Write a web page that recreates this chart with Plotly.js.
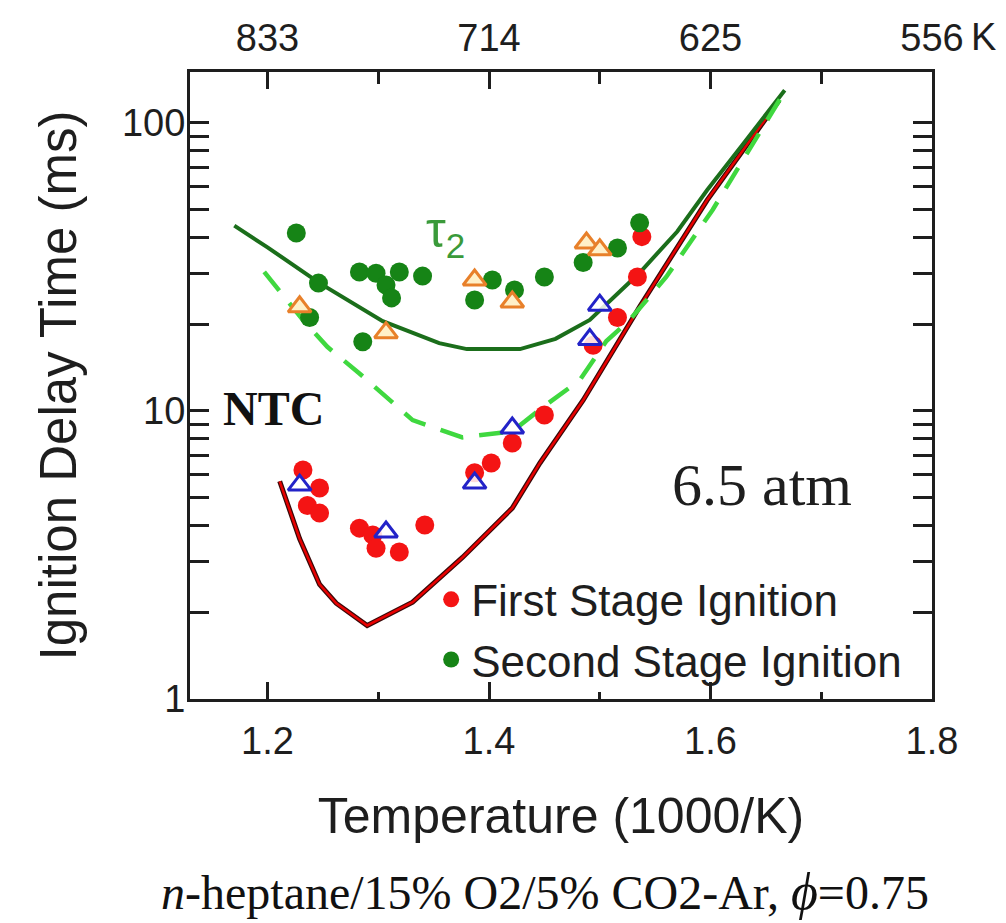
<!DOCTYPE html>
<html>
<head>
<meta charset="utf-8">
<script src="https://cdn.plot.ly/plotly-3.0.1.min.js"></script>
<style>
html,body{margin:0;padding:0;background:#fff;}
#chart{width:1006px;height:923px;}
</style>
</head>
<body>
<div id="chart"></div>
<script>
// ---- data (x = 1000/T in 1/K, y = ignition delay in ms) ----
const firstStageX = [1.232, 1.247, 1.236, 1.247, 1.283, 1.295, 1.298, 1.319, 1.342, 1.387, 1.402, 1.421, 1.450, 1.494, 1.516, 1.534, 1.538];
const firstStageY = [6.24, 5.4, 4.7, 4.42, 3.92, 3.71, 3.34, 3.24, 4.02, 6.1, 6.6, 7.74, 9.68, 16.9, 21.1, 29.2, 40.3];

const secondStageX = [1.226, 1.246, 1.238, 1.283, 1.298, 1.319, 1.340, 1.307, 1.312, 1.286, 1.387, 1.403, 1.423, 1.450, 1.485, 1.516, 1.536];
const secondStageY = [41.5, 27.8, 21.1, 30.4, 30.1, 30.4, 29.4, 27.4, 24.7, 17.4, 24.3, 28.5, 26.3, 29.2, 32.8, 36.8, 45.0];

const triSecondX = [1.229, 1.307, 1.387, 1.421, 1.488, 1.500];
const triSecondY = [23.0, 18.7, 28.5, 23.9, 38.3, 36.3];

const triFirstX = [1.229, 1.307, 1.387, 1.421, 1.491, 1.500];
const triFirstY = [5.53, 3.8, 5.62, 8.73, 17.7, 23.3];

const modelTau2X = [1.170, 1.200, 1.247, 1.304, 1.355, 1.380, 1.428, 1.460, 1.491, 1.536, 1.570, 1.597, 1.630, 1.667];
const modelTau2Y = [44, 37, 27.8, 20.5, 17.2, 16.4, 16.4, 17.8, 20.7, 30.2, 42, 58.5, 85, 130];

const modelDashX = [1.197, 1.232, 1.254, 1.283, 1.331, 1.376, 1.421, 1.450, 1.482, 1.506, 1.527, 1.560, 1.602, 1.665];
const modelDashY = [30.4, 20.7, 16.7, 13.5, 9.3, 8.1, 8.5, 10.4, 12.8, 17.5, 20.7, 29.2, 50, 125];

const modelTau1X = [1.211, 1.229, 1.247, 1.262, 1.290, 1.331, 1.376, 1.421, 1.446, 1.485, 1.536, 1.597, 1.662];
const modelTau1Y = [5.7, 3.6, 2.5, 2.15, 1.8, 2.17, 3.1, 4.6, 6.6, 10.9, 23, 54, 120];

const bottomTicks = [1.2, 1.4, 1.6, 1.8];
const bottomTickText = ['1.2', '1.4', '1.6', '1.8'];
const topTickText = ['833', '714', '625', '556'];
const minorXTicks = [1.3, 1.5, 1.7];
const yTicks = [1, 10, 100];
const yTickText = ['1', '10', '100'];
const yMinorTicks = [2,3,4,5,6,7,8,9,20,30,40,50,60,70,80,90];

const SANS = 'Liberation Sans, Arial, sans-serif';
const SERIF = 'Liberation Serif, Times New Roman, serif';

const traces = [
  {x: modelTau1X, y: modelTau1Y, mode: 'lines', line: {color: '#3a0808', width: 5}, showlegend: false, hoverinfo: 'skip'},
  {x: modelTau1X, y: modelTau1Y, mode: 'lines', line: {color: '#e80000', width: 2.5}, showlegend: false, hoverinfo: 'skip'},
  {x: modelTau2X, y: modelTau2Y, mode: 'lines', line: {color: '#1b6e1b', width: 4}, showlegend: false, hoverinfo: 'skip'},
  {x: modelDashX, y: modelDashY, mode: 'lines', line: {color: '#3fd83f', width: 4.5, dash: '24px,16px'}, showlegend: false, hoverinfo: 'skip'},
  {x: firstStageX, y: firstStageY, mode: 'markers', name: 'First Stage Ignition',
   marker: {symbol: 'circle', size: 19, color: '#f41414'}},
  {x: secondStageX, y: secondStageY, mode: 'markers', name: 'Second Stage Ignition',
   marker: {symbol: 'circle', size: 19, color: '#168416'}},
  {x: triSecondX, y: triSecondY, mode: 'markers', showlegend: false,
   marker: {symbol: 'triangle-up', size: 20, color: '#fff0c8', line: {color: '#e8802a', width: 3}}},
  {x: triFirstX, y: triFirstY, mode: 'markers', showlegend: false,
   marker: {symbol: 'triangle-up', size: 20, color: 'rgba(255,255,255,0.85)', line: {color: '#2323c8', width: 3}}},
  {x: modelTau1X, y: modelTau1Y, xaxis: 'x2', mode: 'lines', line: {width: 0}, opacity: 0, showlegend: false, hoverinfo: 'skip'}
];

const layout = {
  width: 1006, height: 923,
  margin: {l: 190, r: 74, t: 72, b: 224},
  paper_bgcolor: '#ffffff', plot_bgcolor: '#ffffff',
  font: {family: SANS, color: '#1e1e1e', size: 36},
  showlegend: true,
  legend: {x: 0.325, y: 0.215, xanchor: 'left', yanchor: 'top', bgcolor: 'rgba(0,0,0,0)',
           font: {family: SANS, size: 44, color: '#1e1e1e'}, tracegroupgap: 0, itemwidth: 30},
  xaxis: {
    range: [1.13, 1.8], showgrid: false, zeroline: false,
    showline: true, linecolor: '#1e1e1e', linewidth: 3,
    ticks: 'inside', ticklen: 17, tickwidth: 3, tickcolor: '#1e1e1e',
    tickmode: 'array', tickvals: bottomTicks, ticktext: bottomTickText,
    tickfont: {family: SANS, size: 38, color: '#1e1e1e'}, ticklabelstandoff: 6,
    minor: {tickmode: 'array', tickvals: minorXTicks, ticks: 'inside', ticklen: 7, tickwidth: 3, tickcolor: '#1e1e1e', showgrid: false},
    title: {text: 'Temperature (1000/K)', font: {family: SANS, size: 50, color: '#1e1e1e'}, standoff: 38}
  },
  xaxis2: {
    overlaying: 'x', side: 'top', anchor: 'y',
    range: [1.13, 1.8], showgrid: false, zeroline: false,
    showline: true, linecolor: '#1e1e1e', linewidth: 3,
    ticks: 'inside', ticklen: 17, tickwidth: 3, tickcolor: '#1e1e1e',
    tickmode: 'array', tickvals: bottomTicks, ticktext: topTickText,
    tickfont: {family: SANS, size: 38, color: '#1e1e1e'}, ticklabelstandoff: 3,
    minor: {tickmode: 'array', tickvals: minorXTicks, ticks: 'inside', ticklen: 12, tickwidth: 3, tickcolor: '#1e1e1e', showgrid: false}
  },
  yaxis: {
    type: 'log', range: [0, 2.177], showgrid: false, zeroline: false,
    showline: true, linecolor: '#1e1e1e', linewidth: 3, mirror: 'allticks',
    ticks: 'inside', ticklen: 19, tickwidth: 3, tickcolor: '#1e1e1e',
    tickmode: 'array', tickvals: yTicks, ticktext: yTickText,
    tickfont: {family: SANS, size: 38, color: '#1e1e1e'}, ticklabelstandoff: -6,
    minor: {tickmode: 'array', tickvals: yMinorTicks, ticks: 'inside', ticklen: 10, tickwidth: 3, tickcolor: '#1e1e1e', showgrid: false},
    title: {text: 'Ignition Delay Time (ms)', font: {family: SANS, size: 51, color: '#1e1e1e'}, standoff: 30}
  },
  annotations: [
    {xref: 'paper', yref: 'paper', x: 0.344, y: 0.742, xanchor: 'center', yanchor: 'middle', showarrow: false,
     text: 'τ<sub>2</sub>', font: {family: SANS, size: 50, color: '#3a9a3a'}},
    {xref: 'paper', yref: 'paper', x: 0.042, y: 0.464, xanchor: 'left', yanchor: 'middle', showarrow: false,
     text: '<b>NTC</b>', font: {family: SERIF, size: 48, color: '#111111'}},
    {xref: 'paper', yref: 'paper', x: 0.771, y: 0.342, xanchor: 'center', yanchor: 'middle', showarrow: false,
     text: '6.5 atm', font: {family: SERIF, size: 60, color: '#1e1e1e'}},
    {xref: 'paper', yref: 'paper', x: 1.05, y: 1.0, yshift: 35, xanchor: 'left', yanchor: 'middle', showarrow: false,
     text: 'K', font: {family: SANS, size: 38, color: '#1e1e1e'}},
    {xref: 'paper', yref: 'paper', x: 0.478, y: 0, yshift: -192, xanchor: 'center', yanchor: 'middle', showarrow: false,
     text: '<i>n</i>-heptane/15% O2/5% CO2-Ar, <i><span style="font-size:52px">ϕ</span></i>=0.75',
     font: {family: SERIF, size: 48, color: '#111111'}}
  ]
};

Plotly.newPlot('chart', traces, layout, {displayModeBar: false, staticPlot: true});
</script>
</body>
</html>
